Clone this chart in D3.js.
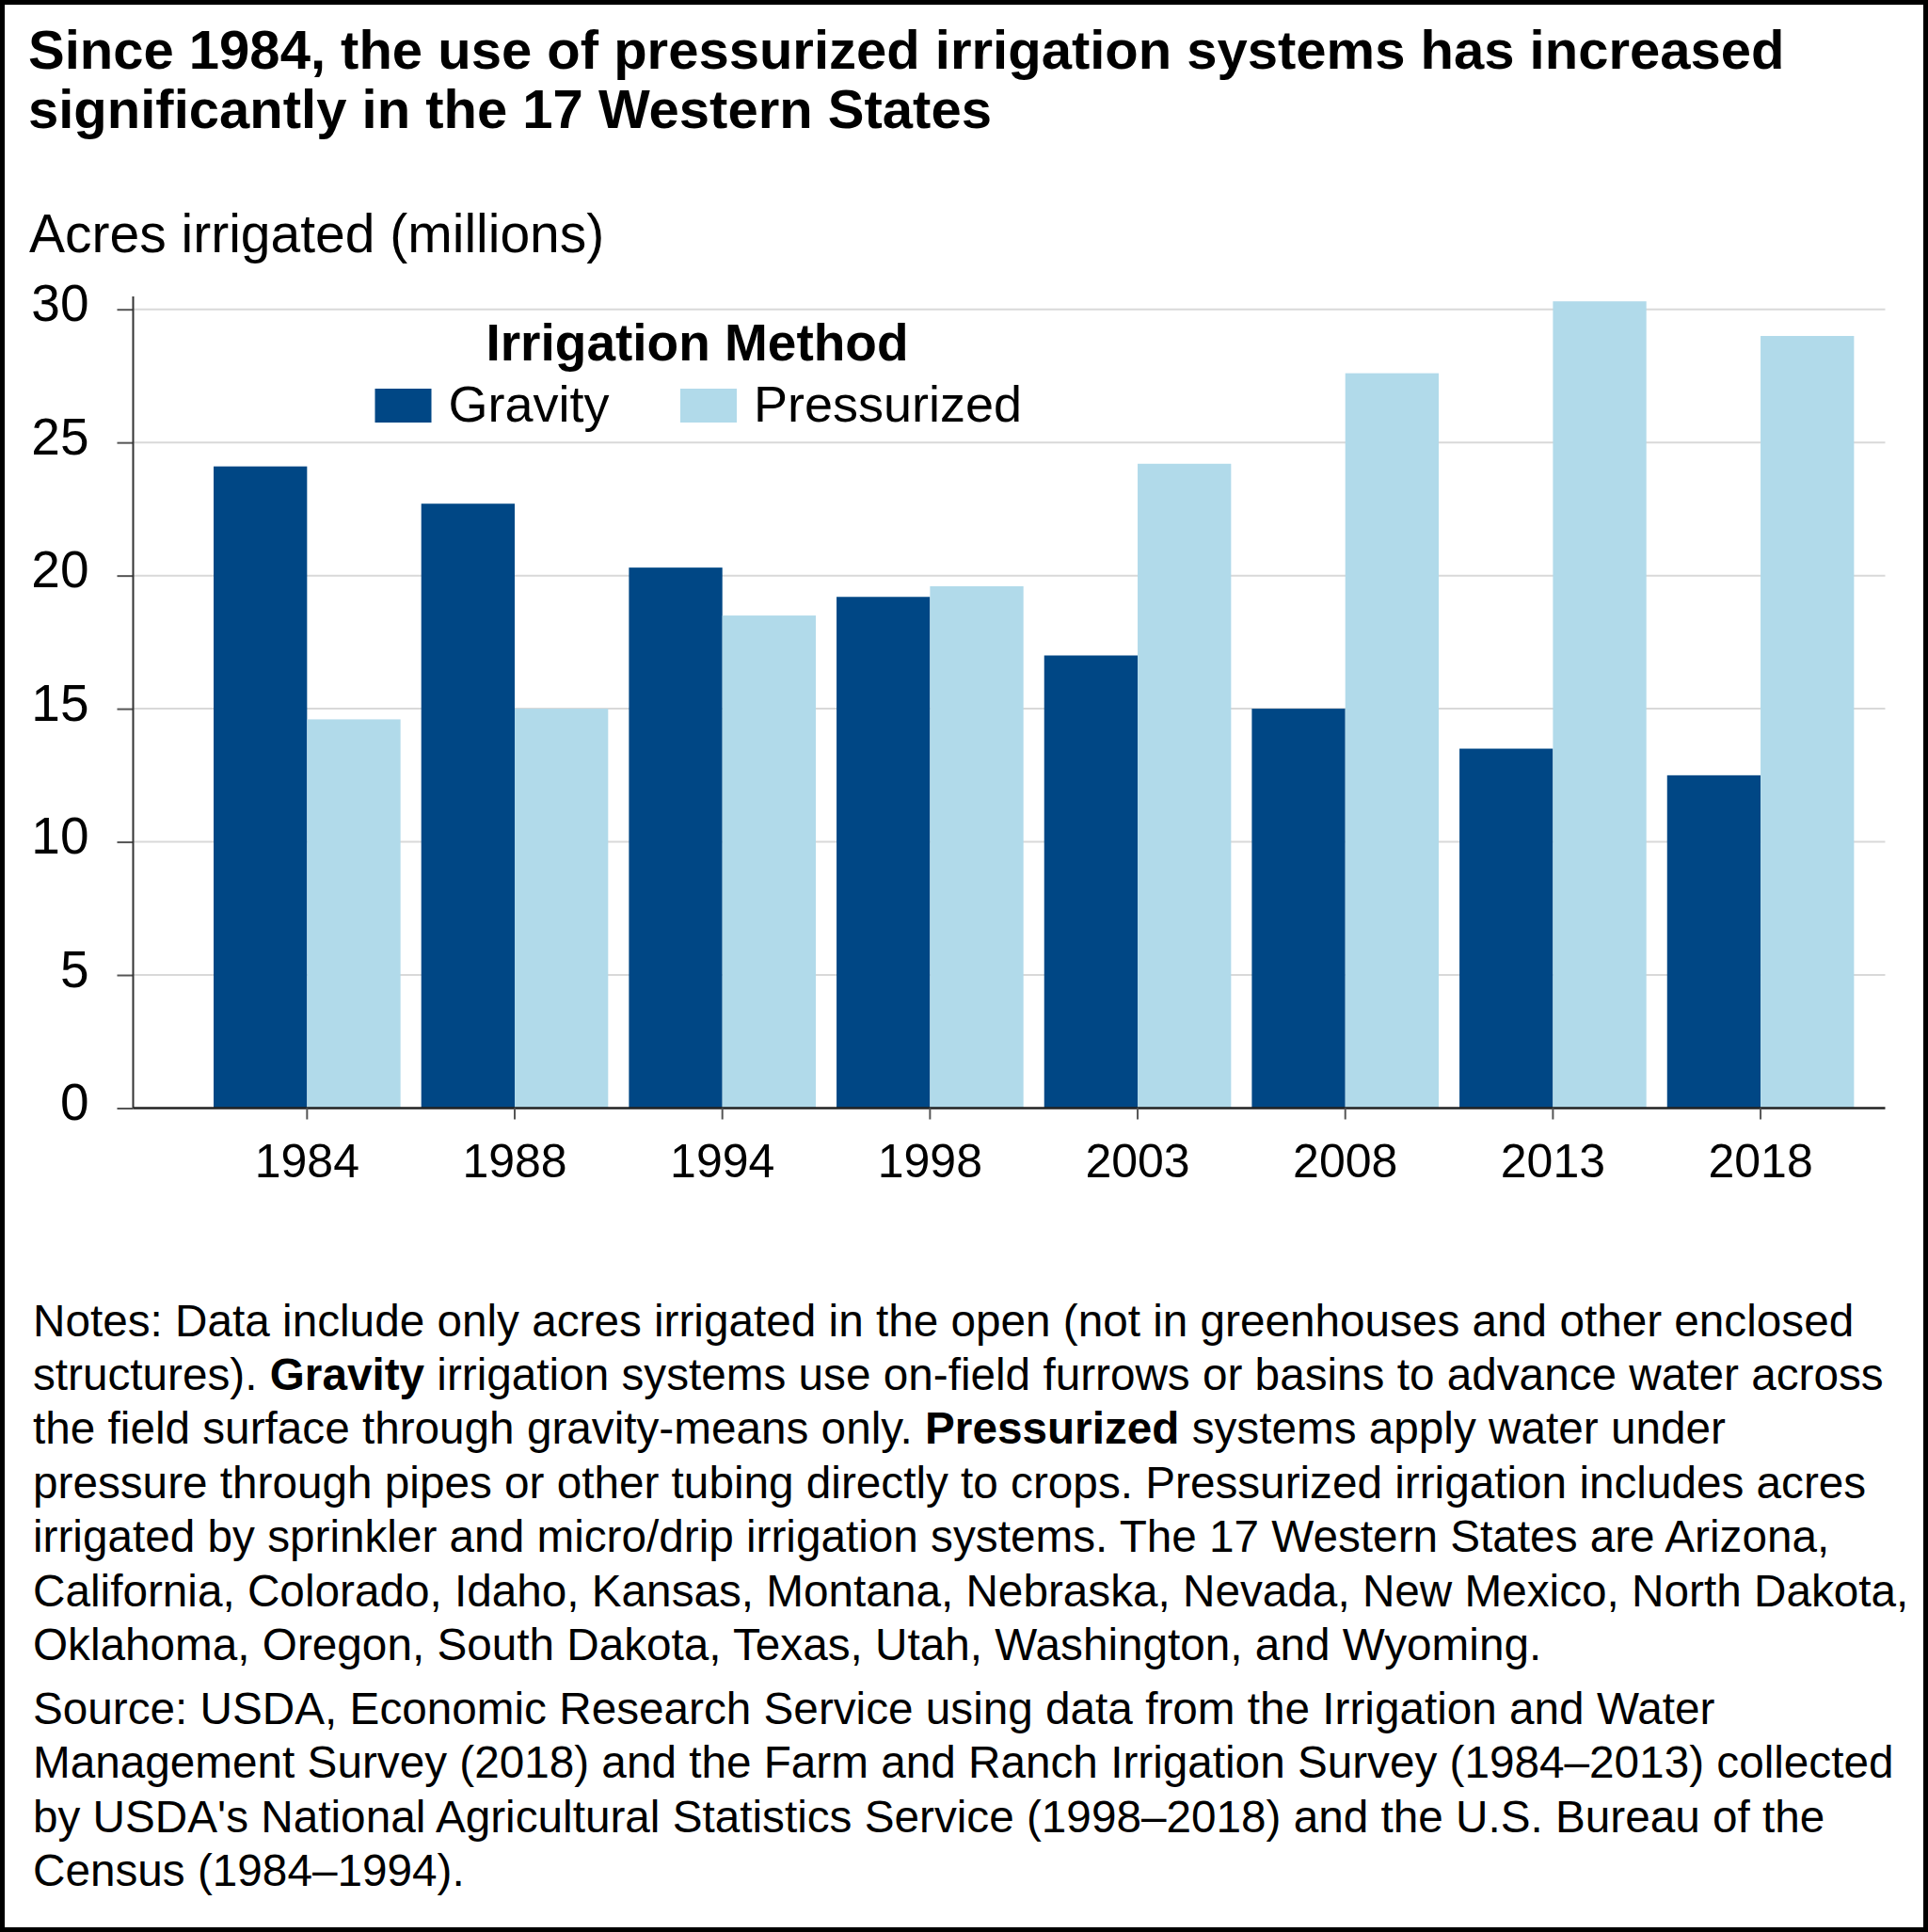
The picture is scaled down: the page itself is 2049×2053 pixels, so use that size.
<!DOCTYPE html>
<html>
<head>
<meta charset="utf-8">
<script src="https://cdn.jsdelivr.net/npm/d3@7"></script>
<style>
  body { margin: 0; background: #fff; }
  text { font-family: "Liberation Sans", Arial, sans-serif; fill: #000; }
</style>
</head>
<body>
<svg id="chart"></svg>
<script>
// data
let years = ['1984', '1988', '1994', '1998', '2003', '2008', '2013', '2018']
let gravity = [24.1, 22.7, 20.3, 19.2, 17.0, 15.0, 13.5, 12.5]
let pressurized = [14.6, 15.0, 18.5, 19.6, 24.2, 27.6, 30.3, 29.0]
let series = ['Gravity', 'Pressurized']
let yTicks = [0, 5, 10, 15, 20, 25, 30]

let width = 2049
let height = 2053
let colors = { 'Gravity': '#004785', 'Pressurized': '#b1daea' }

let svg = d3.select('#chart')
  .attr('width', width)
  .attr('height', height)

// frame
svg.append('rect')
  .attr('x', 2.5).attr('y', 2.5)
  .attr('width', width - 5).attr('height', height - 5)
  .attr('fill', '#fff')
  .attr('stroke', '#000')
  .attr('stroke-width', 5)

// title
let title = svg.append('text')
  .attr('x', 30)
  .attr('font-size', 58)
  .attr('font-weight', 'bold')
title.append('tspan').attr('x', 30).attr('y', 73).text('Since 1984, the use of pressurized irrigation systems has increased')
title.append('tspan').attr('x', 30).attr('y', 136).text('significantly in the 17 Western States')

svg.append('text')
  .attr('x', 31)
  .attr('y', 268)
  .attr('font-size', 57)
  .text('Acres irrigated (millions)')

let left = 141.5
let right = 2003.5
let y = d3.scaleLinear()
  .domain([0, 30])
  .range([1177.5, 328.7])

let x = d3.scaleBand()
  .domain(years)
  .range([216, 1981.4])
  .paddingInner(0.1)
  .paddingOuter(0.05)

let xSub = d3.scaleBand()
  .domain(series)
  .range([0, x.bandwidth()])

// gridlines
svg.append('g')
  .selectAll('line')
  .data(yTicks.filter((d) => d > 0))
  .enter()
  .append('line')
  .attr('x1', left)
  .attr('x2', right)
  .attr('y1', (d) => y(d))
  .attr('y2', (d) => y(d))
  .attr('stroke', '#d9d9d9')
  .attr('stroke-width', 2)

// y axis
let yAxis = svg.append('g')
  .attr('transform', `translate(${left},0)`)
  .call(d3.axisLeft(y).tickValues(yTicks).tickSize(17).tickPadding(30))
yAxis.select('.domain').remove()
yAxis.selectAll('.tick line').attr('stroke', '#555').attr('stroke-width', 2)
yAxis.selectAll('.tick text')
  .attr('font-size', 55)
  .attr('font-family', '"Liberation Sans", Arial, sans-serif')
  .attr('fill', '#000')
  .attr('dy', '0.22em')
svg.append('line')
  .attr('x1', left).attr('x2', left)
  .attr('y1', 315).attr('y2', y(0))
  .attr('stroke', '#333')
  .attr('stroke-width', 2)

// bars
let rows = years.map((yr, i) => ({ year: yr, Gravity: gravity[i], Pressurized: pressurized[i] }))
let groups = svg.append('g')
  .selectAll('g')
  .data(rows)
  .enter()
  .append('g')
  .attr('transform', (d) => `translate(${x(d.year)},0)`)

groups.selectAll('rect')
  .data((d) => series.map((s) => ({ key: s, value: d[s] })))
  .enter()
  .append('rect')
  .attr('x', (d) => xSub(d.key))
  .attr('y', (d) => y(d.value))
  .attr('width', xSub.bandwidth())
  .attr('height', (d) => y(0) - y(d.value))
  .attr('fill', (d) => colors[d.key])

// x axis
let xAxis = svg.append('g')
  .attr('transform', `translate(0,${y(0)})`)
  .call(d3.axisBottom(x).tickSize(12).tickPadding(26).tickSizeOuter(0))
xAxis.select('.domain')
  .attr('d', `M${left},0H${right}`)
  .attr('stroke', '#222')
  .attr('stroke-width', 2.5)
xAxis.selectAll('.tick line').attr('stroke', '#555').attr('stroke-width', 2)
xAxis.selectAll('.tick text')
  .attr('font-size', 50)
  .attr('font-family', '"Liberation Sans", Arial, sans-serif')
  .attr('fill', '#000')

// legend
let legendX = 741
svg.append('text')
  .attr('x', legendX)
  .attr('y', 383)
  .attr('text-anchor', 'middle')
  .attr('font-size', 55)
  .attr('font-weight', 'bold')
  .text('Irrigation Method')

let legendItems = [
  { key: 'Gravity', x: 398.5 },
  { key: 'Pressurized', x: 723 }
]
let legend = svg.append('g')
  .selectAll('g')
  .data(legendItems)
  .enter()
  .append('g')
  .attr('transform', (d) => `translate(${d.x},413)`)
legend.append('rect')
  .attr('width', 60)
  .attr('height', 36)
  .attr('fill', (d) => colors[d.key])
legend.append('text')
  .attr('x', 78)
  .attr('y', 35)
  .attr('font-size', 54)
  .text((d) => d.key)

// notes and source
let notes = [
  [['Notes: Data include only acres irrigated in the open (not in greenhouses and other enclosed', false]],
  [['structures). ', false], ['Gravity', true], [' irrigation systems use on-field furrows or basins to advance water across', false]],
  [['the field surface through gravity-means only. ', false], ['Pressurized', true], [' systems apply water under', false]],
  [['pressure through pipes or other tubing directly to crops. Pressurized irrigation includes acres', false]],
  [['irrigated by sprinkler and micro/drip irrigation systems. The 17 Western States are Arizona,', false]],
  [['California, Colorado, Idaho, Kansas, Montana, Nebraska, Nevada, New Mexico, North Dakota,', false]],
  [['Oklahoma, Oregon, South Dakota, Texas, Utah, Washington, and Wyoming.', false]]
]
let source = [
  'Source: USDA, Economic Research Service using data from the Irrigation and Water',
  'Management Survey (2018) and the Farm and Ranch Irrigation Survey (1984–2013) collected',
  'by USDA\'s National Agricultural Statistics Service (1998–2018) and the U.S. Bureau of the',
  'Census (1984–1994).'
]

let lineH = 57.4
notes.forEach((parts, i) => {
  let t = svg.append('text')
    .attr('x', 35)
    .attr('y', 1419.5 + i * lineH)
    .attr('font-size', 47.7)
  parts.forEach((p) => {
    t.append('tspan')
      .attr('font-weight', p[1] ? 'bold' : 'normal')
      .text(p[0])
  })
})
source.forEach((line, i) => {
  svg.append('text')
    .attr('x', 35)
    .attr('y', 1832 + i * lineH)
    .attr('font-size', 47.7)
    .text(line)
})
</script>
</body>
</html>
